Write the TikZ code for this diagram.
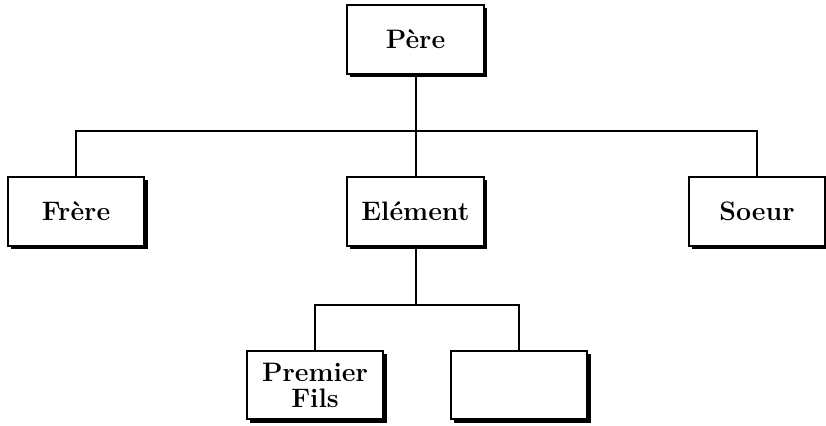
\documentclass[tikz,border=0pt]{standalone}
\usepackage{tikz}
\usetikzlibrary{positioning,shadows}
\definecolor{trait}{RGB}{0,0,0}
\tikzset{
  fam/.style={draw=trait,fill=white,line width=0.5mm,align=center,
              minimum width=34.2mm,minimum height=17.2mm,inner sep=2pt,
              font=\fontsize{19}{18.5}\selectfont\bfseries,
              drop shadow={shadow xshift=0.8mm,shadow yshift=-0.8mm,
                           opacity=1,fill=trait}},
  lien/.style={draw=trait,line width=0.5mm},
}
\begin{document}
\begin{tikzpicture}[x=0.25mm,y=0.25mm]
  \useasboundingbox (0,0) rectangle (826,-426);
  \coordinate (bus1) at (418,-131);
  \coordinate (bus2) at (418,-305);

  \node[fam] (pere)    at (415.5,-39.5) {Père};
  \node[fam] (frere)   at (76,-211.5)   {Frère};
  \node[fam] (element) at (415.5,-211.5) {Elément};
  \node[fam] (soeur)   at (757,-211.5)  {Soeur};
  \node[fam] (fils1)   at (315,-385)    {Premier\\Fils};
  \node[fam] (fils2)   at (519,-385)    {};

  \draw[lien] (pere.south) -- (element.north);
  \draw[lien] (frere.north) -- (frere.north |- bus1)
              -- (soeur.north |- bus1) -- (soeur.north);
  \draw[lien] (element.south) -- (element.south |- bus2);
  \draw[lien] (fils1.north) -- (fils1.north |- bus2)
              -- (fils2.north |- bus2) -- (fils2.north);
\end{tikzpicture}
\end{document}
